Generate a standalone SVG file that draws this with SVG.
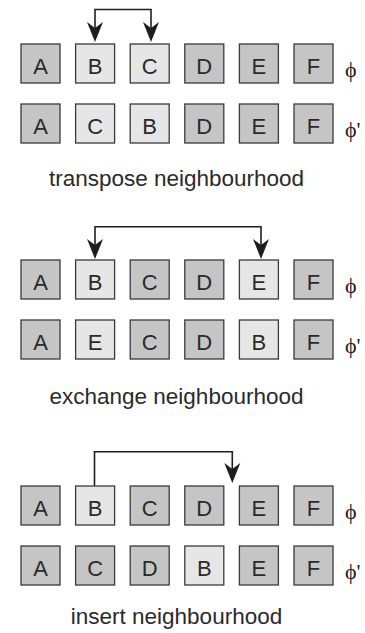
<svg xmlns="http://www.w3.org/2000/svg" width="365" height="633" viewBox="0 0 365 633">
<defs>
<style>
.d{fill:#c5c5c5;stroke:#3a3a3a;stroke-width:1.3}
.l{fill:#e6e6e6;stroke:#3a3a3a;stroke-width:1.3}
.t{font-family:"Liberation Sans",Arial,sans-serif;font-size:22px;fill:#2a2a2a;text-anchor:middle}
.cap{font-family:"Liberation Sans",Arial,sans-serif;font-size:22.5px;fill:#2a2a2a;text-anchor:middle}
.phi{font-family:"Liberation Serif","DejaVu Serif",serif;font-size:22px;fill:#222222}
.c{fill:none;stroke:#1e1e1e;stroke-width:1.6}
.h{fill:#1e1e1e}
</style>
<polygon id="ah" points="0,0 -8,-20 0,-14 8,-20"/>
</defs>
<rect width="365" height="633" fill="#ffffff"/>

<g id="connectors">
<path class="c" d="M95,36 V9.5 H151 V36"/>
<use href="#ah" class="h" x="95" y="42"/>
<use href="#ah" class="h" x="151" y="42"/>
<path class="c" d="M95,253 V226.7 H261 V253"/>
<use href="#ah" class="h" x="95" y="259"/>
<use href="#ah" class="h" x="261" y="259"/>
<path class="c" d="M94.5,486 V451.7 H232.3 V477"/>
<use href="#ah" class="h" x="232.3" y="483"/>
</g>

<!-- Section 1: transpose -->
<g id="s1r1">
<g id="s1r1A"><rect class="d" x="21" y="44" width="39" height="39"/><text class="t" x="40.5" y="74">A</text></g>
<g id="s1r1B"><rect class="l" x="75.6" y="44" width="39" height="39"/><text class="t" x="95.1" y="74">B</text></g>
<g id="s1r1C"><rect class="l" x="130.2" y="44" width="39" height="39"/><text class="t" x="149.7" y="74">C</text></g>
<g id="s1r1D"><rect class="d" x="184.8" y="44" width="39" height="39"/><text class="t" x="204.3" y="74">D</text></g>
<g id="s1r1E"><rect class="d" x="239.4" y="44" width="39" height="39"/><text class="t" x="258.9" y="74">E</text></g>
<g id="s1r1F"><rect class="d" x="294" y="44" width="39" height="39"/><text class="t" x="313.5" y="74">F</text></g>
<text class="phi" x="345" y="77">ϕ</text>
</g>
<g id="s1r2">
<g id="s1r2A"><rect class="d" x="21" y="104" width="39" height="39"/><text class="t" x="40.5" y="134">A</text></g>
<g id="s1r2C"><rect class="l" x="75.6" y="104" width="39" height="39"/><text class="t" x="95.1" y="134">C</text></g>
<g id="s1r2B"><rect class="l" x="130.2" y="104" width="39" height="39"/><text class="t" x="149.7" y="134">B</text></g>
<g id="s1r2D"><rect class="d" x="184.8" y="104" width="39" height="39"/><text class="t" x="204.3" y="134">D</text></g>
<g id="s1r2E"><rect class="d" x="239.4" y="104" width="39" height="39"/><text class="t" x="258.9" y="134">E</text></g>
<g id="s1r2F"><rect class="d" x="294" y="104" width="39" height="39"/><text class="t" x="313.5" y="134">F</text></g>
<text class="phi" x="345" y="137">ϕ'</text>
</g>
<text id="cap1" class="cap" x="176.5" y="185.5">transpose neighbourhood</text>

<!-- Section 2: exchange -->
<g id="s2r1">
<g id="s2r1A"><rect class="d" x="21" y="260" width="39" height="39"/><text class="t" x="40.5" y="290">A</text></g>
<g id="s2r1B"><rect class="l" x="75.6" y="260" width="39" height="39"/><text class="t" x="95.1" y="290">B</text></g>
<g id="s2r1C"><rect class="d" x="130.2" y="260" width="39" height="39"/><text class="t" x="149.7" y="290">C</text></g>
<g id="s2r1D"><rect class="d" x="184.8" y="260" width="39" height="39"/><text class="t" x="204.3" y="290">D</text></g>
<g id="s2r1E"><rect class="l" x="239.4" y="260" width="39" height="39"/><text class="t" x="258.9" y="290">E</text></g>
<g id="s2r1F"><rect class="d" x="294" y="260" width="39" height="39"/><text class="t" x="313.5" y="290">F</text></g>
<text class="phi" x="345" y="293">ϕ</text>
</g>
<g id="s2r2">
<g id="s2r2A"><rect class="d" x="21" y="320" width="39" height="39"/><text class="t" x="40.5" y="350">A</text></g>
<g id="s2r2E"><rect class="l" x="75.6" y="320" width="39" height="39"/><text class="t" x="95.1" y="350">E</text></g>
<g id="s2r2C"><rect class="d" x="130.2" y="320" width="39" height="39"/><text class="t" x="149.7" y="350">C</text></g>
<g id="s2r2D"><rect class="d" x="184.8" y="320" width="39" height="39"/><text class="t" x="204.3" y="350">D</text></g>
<g id="s2r2B"><rect class="l" x="239.4" y="320" width="39" height="39"/><text class="t" x="258.9" y="350">B</text></g>
<g id="s2r2F"><rect class="d" x="294" y="320" width="39" height="39"/><text class="t" x="313.5" y="350">F</text></g>
<text class="phi" x="345" y="353">ϕ'</text>
</g>
<text id="cap2" class="cap" x="176.5" y="403.5">exchange neighbourhood</text>

<!-- Section 3: insert -->
<g id="s3r1">
<g id="s3r1A"><rect class="d" x="21" y="486" width="39" height="39"/><text class="t" x="40.5" y="516">A</text></g>
<g id="s3r1B"><rect class="l" x="75.6" y="486" width="39" height="39"/><text class="t" x="95.1" y="516">B</text></g>
<g id="s3r1C"><rect class="d" x="130.2" y="486" width="39" height="39"/><text class="t" x="149.7" y="516">C</text></g>
<g id="s3r1D"><rect class="d" x="184.8" y="486" width="39" height="39"/><text class="t" x="204.3" y="516">D</text></g>
<g id="s3r1E"><rect class="d" x="239.4" y="486" width="39" height="39"/><text class="t" x="258.9" y="516">E</text></g>
<g id="s3r1F"><rect class="d" x="294" y="486" width="39" height="39"/><text class="t" x="313.5" y="516">F</text></g>
<text class="phi" x="345" y="519">ϕ</text>
</g>
<g id="s3r2">
<g id="s3r2A"><rect class="d" x="21" y="546" width="39" height="39"/><text class="t" x="40.5" y="576">A</text></g>
<g id="s3r2C"><rect class="d" x="75.6" y="546" width="39" height="39"/><text class="t" x="95.1" y="576">C</text></g>
<g id="s3r2D"><rect class="d" x="130.2" y="546" width="39" height="39"/><text class="t" x="149.7" y="576">D</text></g>
<g id="s3r2B"><rect class="l" x="184.8" y="546" width="39" height="39"/><text class="t" x="204.3" y="576">B</text></g>
<g id="s3r2E"><rect class="d" x="239.4" y="546" width="39" height="39"/><text class="t" x="258.9" y="576">E</text></g>
<g id="s3r2F"><rect class="d" x="294" y="546" width="39" height="39"/><text class="t" x="313.5" y="576">F</text></g>
<text class="phi" x="345" y="579">ϕ'</text>
</g>
<text id="cap3" class="cap" x="176.5" y="624">insert neighbourhood</text>
</svg>
